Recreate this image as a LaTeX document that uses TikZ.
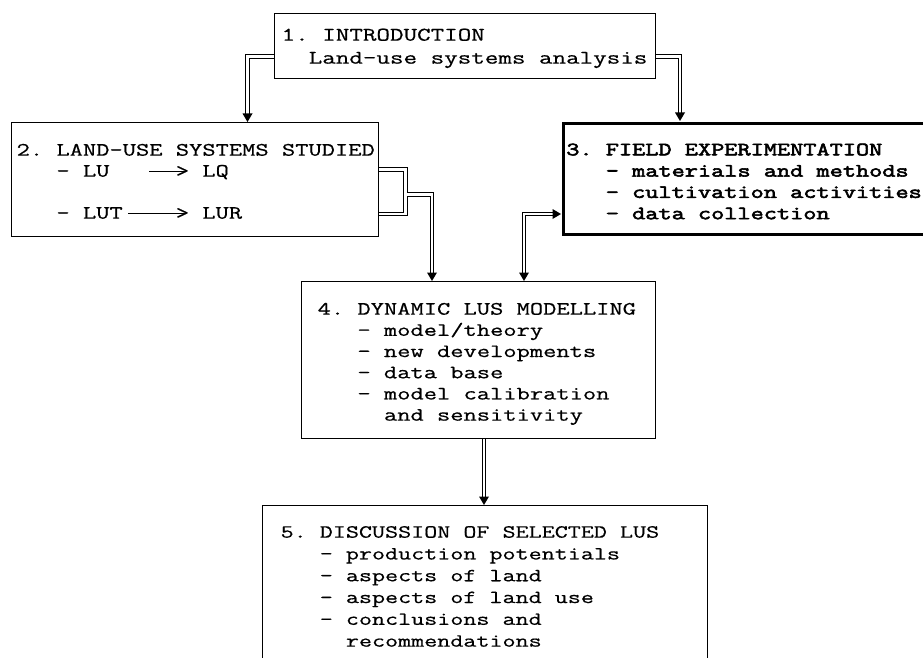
\documentclass[tikz,border=0pt]{standalone}
\usepackage{fontspec}
\usetikzlibrary{calc}
\newfontfamily\cour{Latin Modern Mono}[FakeStretch=1.37, FakeBold=0.6]
\newfontfamily\courbold{Latin Modern Mono}[FakeStretch=1.36, FakeBold=3]
\newlength\cw
% #1 width, #2 height, #3 left pad, #4 top-to-first-baseline, #5 font, #6 lines
\newcommand\boxtxt[6]{\hspace*{#3}\parbox[b][#2][t]{\dimexpr#1-#3\relax}{#5\settowidth{\cw}{x}\spaceskip=\cw\relax\xspaceskip=\cw\relax\frenchspacing\raggedright\vspace*{\dimexpr#4-0.7\baselineskip\relax}#6}}
\newcommand\ind{\hspace*{3\cw}}
\newcommand\indd{\hspace*{5\cw}}
\tikzset{
  bx/.style={draw=black, line width=1.3pt, inner sep=0pt, anchor=north west},
  bxthick/.style={bx, line width=2.6pt},
  dbl/.style={draw=black, line width=1.1pt, double=white, double distance=2.6pt},
}
\begin{document}
\begin{tikzpicture}[x=1pt, y=-1pt]
\useasboundingbox (0,0) rectangle (923,658);
\fill[white] (0,0) rectangle (923,658);
\begin{scope}
\clip (0,0) rectangle (923,658);

% boxes
\node[bx] (b1) at (274,13) {\boxtxt{381pt}{65pt}{7pt}{27pt}{\cour\fontsize{19.2}{23}\selectfont}{%
\strut 1. INTRODUCTION\\
\strut\hspace*{2\cw}Land-use systems analysis}};

\node[bx] (b2) at (11,122) {\boxtxt{367pt}{114pt}{5pt}{33pt}{\cour\fontsize{18.8}{21}\selectfont}{%
\strut 2. LAND-USE SYSTEMS STUDIED\\
\strut\makebox[10\cw][l]{\ind- LU}\rule[0.28em]{2.7\cw}{0.7pt}\hspace*{-0.7\cw}>\hspace*{\cw}LQ\\
\strut\\
\strut\makebox[8\cw][l]{\ind- LUT}\hspace*{0.4\cw}\rule[0.28em]{4.3\cw}{0.7pt}\hspace*{-0.7\cw}>\hspace*{\cw}LUR}};

\node[bxthick] (b3) at (562,122) {\boxtxt{380pt}{111pt}{3pt}{32pt}{\courbold\fontsize{18.8}{21.3}\selectfont}{%
\strut 3. FIELD EXPERIMENTATION\\
\strut\ind- materials and methods\\
\strut\ind- cultivation activities\\
\strut\ind- data collection}};

\node[bx] (b4) at (301,281) {\boxtxt{354pt}{157pt}{16pt}{33pt}{\cour\fontsize{18.8}{21.2}\selectfont}{%
\strut 4. DYNAMIC LUS MODELLING\\
\strut\ind- model/theory\\
\strut\ind- new developments\\
\strut\ind- data base\\
\strut\ind- model calibration\\
\strut\indd and sensitivity}};

\node[bx] (b5) at (262,505) {\boxtxt{445pt}{180pt}{18pt}{32pt}{\cour\fontsize{18.5}{21.8}\selectfont}{%
\strut 5. DISCUSSION OF SELECTED LUS\\
\strut\ind- production potentials\\
\strut\ind- aspects of land\\
\strut\ind- aspects of land use\\
\strut\ind- conclusions and\\
\strut\indd recommendations}};

% helper coordinates
\coordinate (pa) at (0,56.5);
\coordinate (xa) at (247.5,0);
\coordinate (xb) at (680,0);
\coordinate (cA) at (405.5,169.5);
\coordinate (cB) at (405.5,214);
\coordinate (cM) at (406.8,194.5);
\coordinate (xc) at (432,0);
\coordinate (pd) at (0,214);
\coordinate (xd) at (524,0);
\coordinate (xe) at (484,0);

% 1 -> 2
\draw[dbl] (b1.west |- pa) -| ($(b2.north -| xa)+(0,-8)$);
\fill[black] (b2.north -| xa) -- ++(-5,-8.5) -- ++(10,0) -- cycle;
% 1 -> 3
\draw[dbl] (b1.east |- pa) -| ($(b3.north -| xb)+(0,-8)$);
\fill[black] ($(b3.north -| xb)+(0,-1)$) -- ++(-5,-8.5) -- ++(10,0) -- cycle;
% 2 -> 4 (bracket and branch)
\draw[dbl] (b2.east |- cA) -- (cA) -- (cB) -- (b2.east |- cB);
\draw[dbl] (cM) -| ($(b4.north -| xc)+(0,-8)$);
\fill[black] (b4.north -| xc) -- ++(-5,-8.5) -- ++(10,0) -- cycle;
% 3 <-> 4
\draw[dbl] ($(b3.west |- pd)+(-9,0)$) -| ($(b4.north -| xd)+(0,-8)$);
\fill[black] ($(b3.west |- pd)+(-1,0)$) -- ++(-8.5,-5) -- ++(0,10) -- cycle;
\fill[black] (b4.north -| xd) -- ++(-5,-8.5) -- ++(10,0) -- cycle;
% 4 -> 5
\draw[dbl] (b4.south -| xe) -- ($(b5.north -| xe)+(0,-8)$);
\fill[black] (b5.north -| xe) -- ++(-5,-8.5) -- ++(10,0) -- cycle;
\end{scope}
\end{tikzpicture}
\end{document}
